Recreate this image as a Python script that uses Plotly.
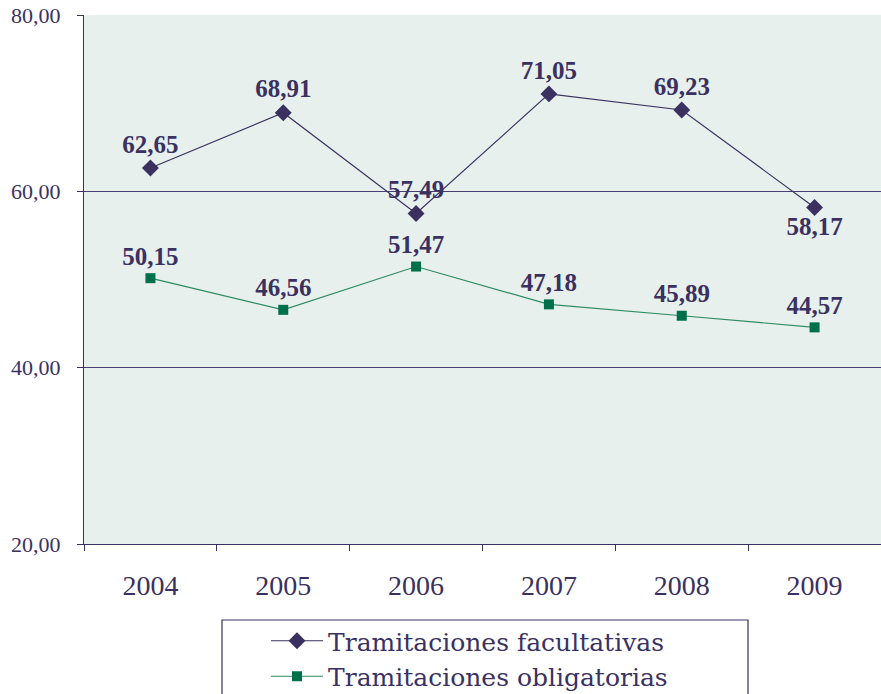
import plotly.graph_objects as go

years = ["2004", "2005", "2006", "2007", "2008", "2009"]
facultativas = [62.65, 68.91, 57.49, 71.05, 69.23, 58.17]
obligatorias = [50.15, 46.56, 51.47, 47.18, 45.89, 44.57]
fac_text_pos = ["top center", "top center", "top center", "top center", "top center", "bottom center"]
obl_text_pos = ["top center"] * 6

INK = "#3b3160"
GREEN = "#00704a"
BG = "#e7f0ed"
SERIF = "Liberation Serif, DejaVu Serif, serif"
WIDE_SERIF = "DejaVu Serif, Liberation Serif, serif"


def fmt(v):
    return f"{v:.2f}".replace(".", ",")


fig = go.Figure()
fig.add_trace(go.Scatter(
    x=years, y=facultativas, name="Tramitaciones facultativas",
    mode="lines+markers+text",
    line=dict(color=INK, width=1.2),
    marker=dict(symbol="diamond", size=13, color=INK),
    text=[fmt(v) for v in facultativas], textposition=fac_text_pos,
    textfont=dict(family=SERIF, size=25, color=INK, weight="bold"),
    cliponaxis=False,
))
fig.add_trace(go.Scatter(
    x=years, y=obligatorias, name="Tramitaciones obligatorias",
    mode="lines+markers+text",
    line=dict(color="#2e8a62", width=1.2),
    marker=dict(symbol="square", size=10, color=GREEN),
    text=[fmt(v) for v in obligatorias], textposition=obl_text_pos,
    textfont=dict(family=SERIF, size=25, color=INK, weight="bold"),
    cliponaxis=False,
))

# legend frame
fig.add_shape(type="rect", xref="paper", yref="paper",
              x0=(222 - 84) / 797, x1=(748 - 84) / 797,
              y0=(544 - 720) / 529, y1=(544 - 620) / 529,
              line=dict(color=INK, width=1.2), fillcolor="white", layer="below")

fig.update_layout(
    width=881, height=694,
    margin=dict(l=84, r=0, t=15, b=150, autoexpand=False),
    paper_bgcolor="white", plot_bgcolor=BG,
    separators=",.",
    showlegend=True,
    legend=dict(
        xref="container", yref="container",
        x=266 / 881, xanchor="left",
        y=1 - 618 / 694, yanchor="top",
        bgcolor="rgba(0,0,0,0)", borderwidth=0,
        font=dict(family=WIDE_SERIF, size=25, color=INK),
        tracegroupgap=0, itemwidth=52,
    ),
    xaxis=dict(
        type="category", range=[-0.5, 5.5],
        showline=True, linecolor=INK, linewidth=1.2,
        ticks="outside", tickson="boundaries", ticklen=6, tickcolor=INK,
        showgrid=False,
        tickfont=dict(family=SERIF, size=28, color=INK),
        ticklabelstandoff=16,
    ),
    yaxis=dict(
        range=[20, 80], dtick=20, tickformat=".2f",
        showline=True, linecolor=INK, linewidth=1.2,
        ticks="outside", ticklen=6, tickcolor=INK,
        showgrid=True, gridcolor="#4a4070", gridwidth=1.2,
        zeroline=False,
        tickfont=dict(family=SERIF, size=22, color=INK),
        ticklabelstandoff=12,
    ),
)

fig.write_html("out.html")
